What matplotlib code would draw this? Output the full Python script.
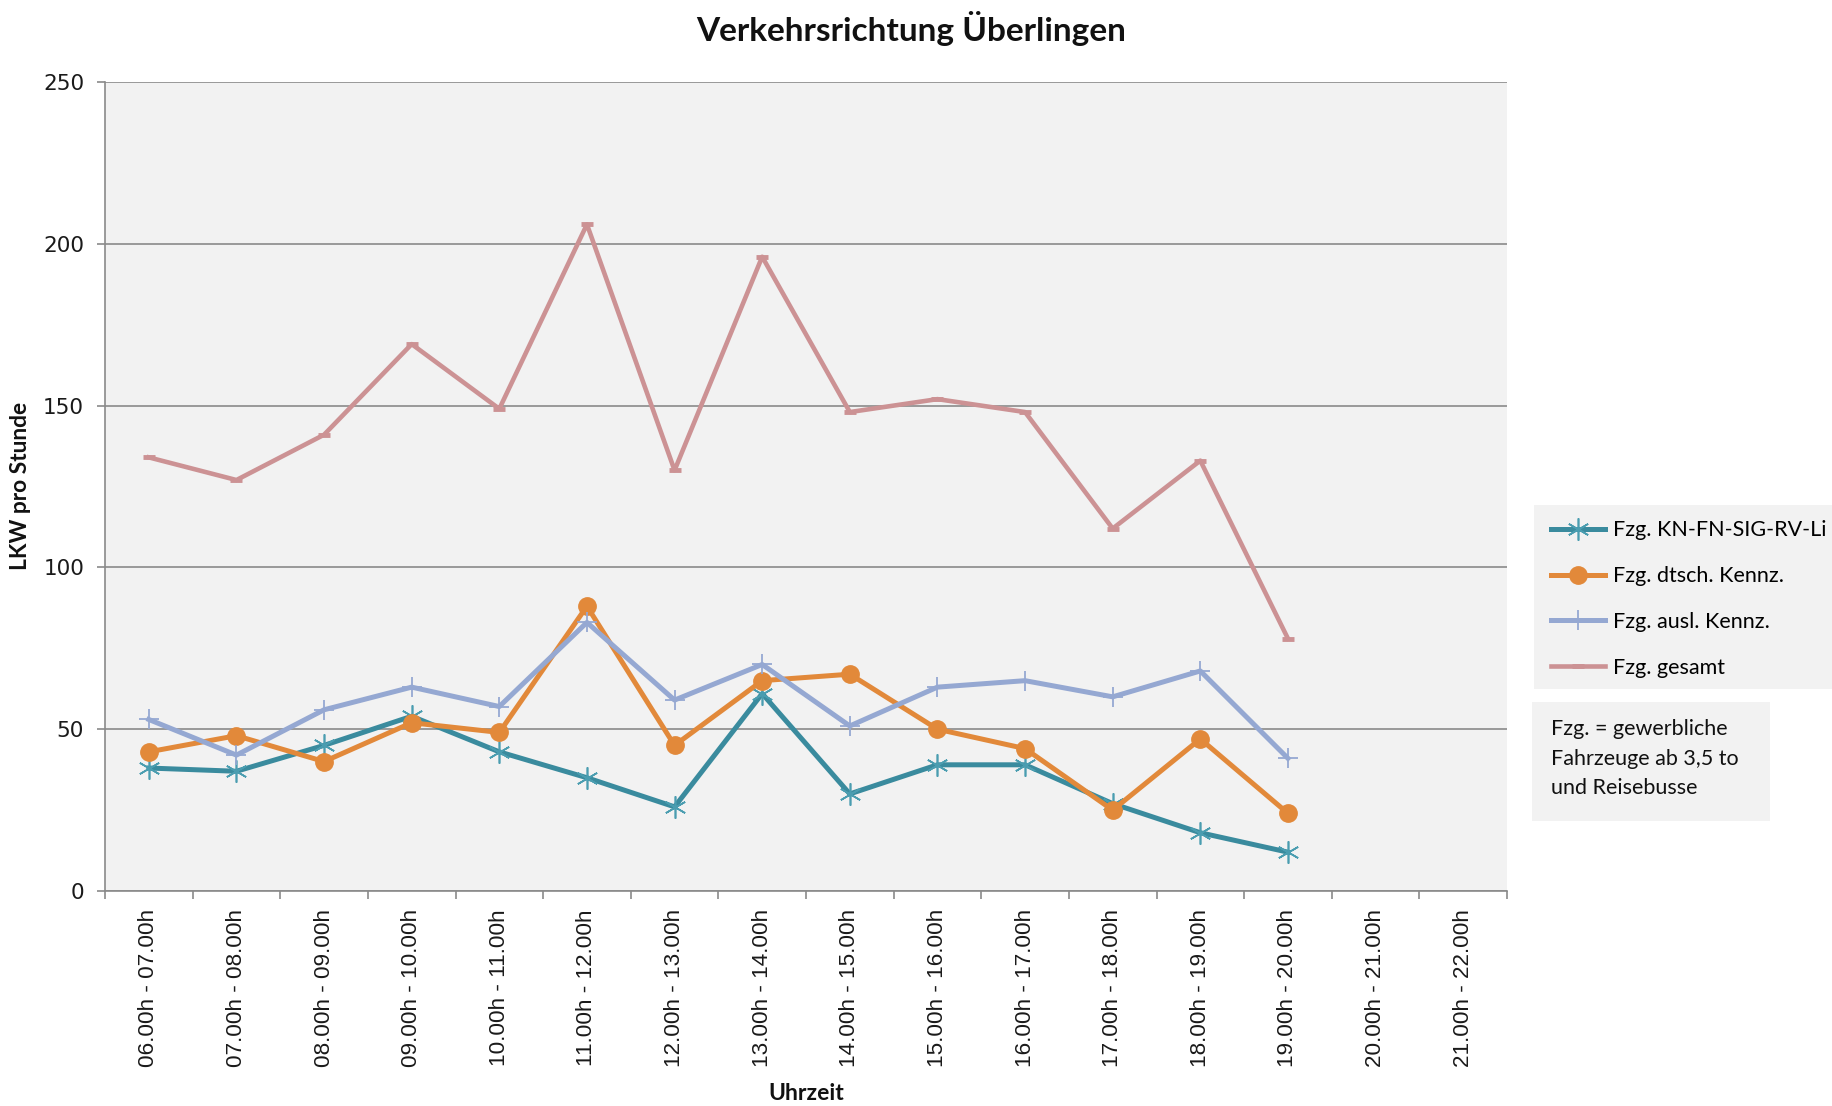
import matplotlib
matplotlib.use("Agg")
import matplotlib.pyplot as plt
from matplotlib.patches import Rectangle
import numpy as np

# ---------------- data ----------------
categories = ["06.00h - 07.00h", "07.00h - 08.00h", "08.00h - 09.00h", "09.00h - 10.00h",
              "10.00h - 11.00h", "11.00h - 12.00h", "12.00h - 13.00h", "13.00h - 14.00h",
              "14.00h - 15.00h", "15.00h - 16.00h", "16.00h - 17.00h", "17.00h - 18.00h",
              "18.00h - 19.00h", "19.00h - 20.00h", "20.00h - 21.00h", "21.00h - 22.00h"]
kn_fn_sig = [38, 37, 45, 54, 43, 35, 26, 61, 30, 39, 39, 27, 18, 12]
dtsch = [43, 48, 40, 52, 49, 88, 45, 65, 67, 50, 44, 25, 47, 24]
ausl = [53, 42, 56, 63, 57, 83, 59, 70, 51, 63, 65, 60, 68, 41]
gesamt = [134, 127, 141, 169, 149, 206, 130, 196, 148, 152, 148, 112, 133, 78]
series_labels = ["Fzg. KN-FN-SIG-RV-Li", "Fzg. dtsch. Kennz.", "Fzg. ausl. Kennz.", "Fzg. gesamt"]
y_ticks = [0, 50, 100, 150, 200, 250]
title = "Verkehrsrichtung Überlingen"
y_label = "LKW pro Stunde"
x_label = "Uhrzeit"
note = "Fzg. = gewerbliche\nFahrzeuge ab 3,5 to\nund Reisebusse"

# ---------------- layout ----------------
W, H = 1832, 1106
fig = plt.figure(figsize=(W / 100, H / 100), dpi=100)
fig.patch.set_facecolor("white")

def fx(p):
    return p / W

def fy(p):
    return 1 - p / H

left, right, top, bottom = 105, 1507, 82, 891
ax = fig.add_axes([fx(left), fy(bottom), (right - left) / W, (bottom - top) / H])
ax.set_facecolor("#f2f2f2")

grid_col = "#8a8a8a"
c_teal = "#3a8b9e"
c_orange = "#e2893a"
c_blue = "#95a8d2"
c_pink = "#cc9294"

x = np.arange(len(kn_fn_sig))
l1, = ax.plot(x, kn_fn_sig, color=c_teal, lw=3.6, marker=(6, 2, 0), markersize=16,
              markeredgewidth=1.2, markeredgecolor="#4a9db0", label=series_labels[0], zorder=3)
l2, = ax.plot(x, dtsch, color=c_orange, lw=3.6, marker="o", markersize=12.5,
              markeredgecolor=c_orange, markerfacecolor=c_orange, label=series_labels[1], zorder=4)
l3, = ax.plot(x, ausl, color=c_blue, lw=3.6, marker="+", markersize=14,
              markeredgewidth=1.3, label=series_labels[2], zorder=5)
l4, = ax.plot(x, gesamt, color=c_pink, lw=3.3, marker="_", markersize=8,
              markeredgewidth=3.5, label=series_labels[3], zorder=6)

ax.set_xlim(-0.5, len(categories) - 0.5)
ax.set_ylim(0, 250)
ax.set_yticks(y_ticks)
ax.yaxis.grid(True, color=grid_col, lw=1.2)
ax.set_axisbelow(True)
for s in ["top", "right"]:
    ax.spines[s].set_visible(False)
for s in ["left", "bottom"]:
    ax.spines[s].set_color(grid_col)
    ax.spines[s].set_linewidth(1.2)

ax.set_xticks(np.arange(len(categories)))
ax.set_xticklabels(categories, rotation=90, fontsize=16.2, family="Liberation Sans", color="#1a1a1a")
ax.set_xticks(np.arange(-0.5, len(categories), 1), minor=True)
ax.tick_params(axis="x", which="major", length=0, pad=13)
ax.tick_params(axis="x", which="minor", length=6, color=grid_col, width=1.2, direction="out")
ax.tick_params(axis="y", length=6, color=grid_col, width=1.2, pad=9, labelsize=15.5, labelcolor="#1a1a1a")
for lab in ax.get_yticklabels():
    lab.set_family("DejaVu Sans")

# titles
fig.text(fx(911), fy(29), title, ha="center", va="center", fontsize=24,
         fontweight="bold", family="Lato", color="#111111")
fig.text(fx(21), fy(486), y_label, ha="center", va="center", rotation=90, fontsize=16.4,
         fontweight="bold", family="Lato", color="#111111")
fig.text(fx(806), fy(1094), x_label, ha="center", va="center", fontsize=16.5,
         fontweight="bold", family="Lato", color="#111111")

# legend background + legend
fig.patches.append(Rectangle((fx(1534), fy(689)), (W - 1534) / W, (689 - 505) / H,
                             transform=fig.transFigure, facecolor="#f2f2f2", edgecolor="none", zorder=0))
leg = fig.legend(handles=[l1, l2, l3, l4], loc="upper left",
                 bbox_to_anchor=(fx(1534), fy(503)), frameon=False,
                 prop={"family": "Lato", "size": 15.5}, handlelength=2.5, handletextpad=0.35,
                 labelspacing=1.2, borderpad=0.3, numpoints=1)

# note box
fig.patches.append(Rectangle((fx(1532), fy(821)), (1770 - 1532) / W, (821 - 702) / H,
                             transform=fig.transFigure, facecolor="#f2f2f2", edgecolor="none", zorder=0))
fig.text(fx(1551), fy(719), note, ha="left", va="top", fontsize=15.5, family="Lato",
         linespacing=1.6, color="#111111")

fig.savefig("out.png", dpi=100, facecolor="white")
